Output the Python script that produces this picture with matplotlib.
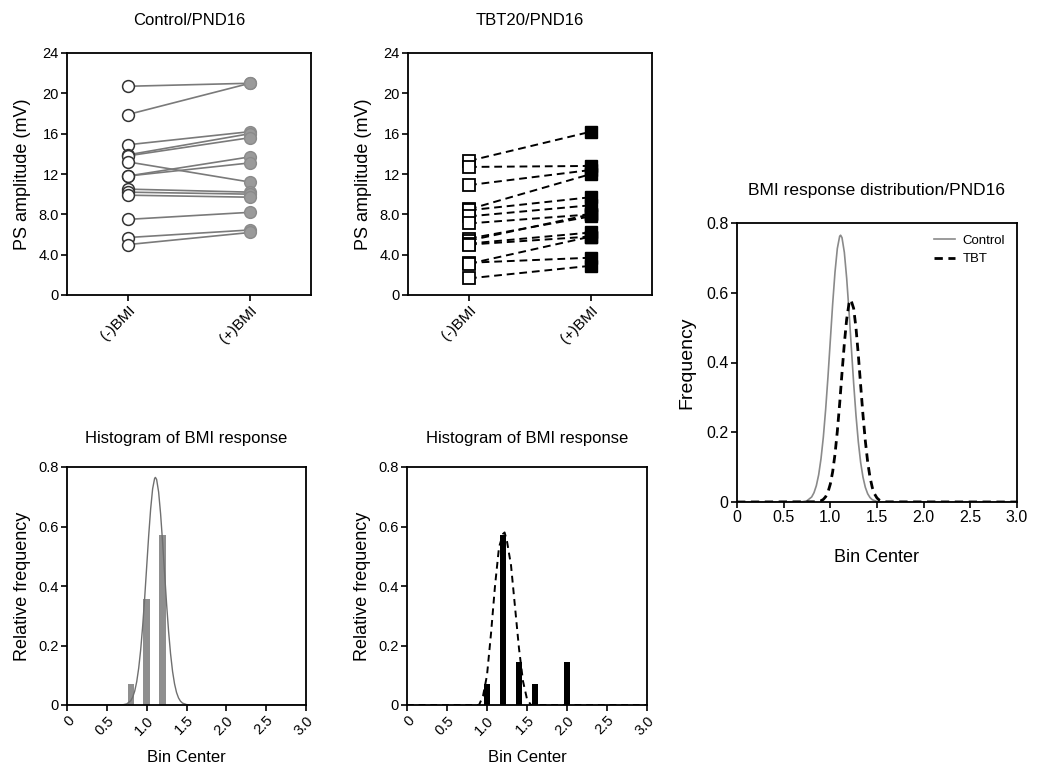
import numpy as np
import matplotlib
matplotlib.use("Agg")
import matplotlib.pyplot as plt

plt.rcParams['font.family'] = ['Liberation Sans', 'DejaVu Sans']

# -------------------------------------------------
# Daten
# -------------------------------------------------
conditions = ["(-)BMI", "(+)BMI"]

# PS amplitude (mV), je Schnitt: vor / nach BMI
control_before = [20.7, 17.9, 14.9, 13.9, 13.8, 13.2, 11.8, 11.8, 10.5, 10.2, 9.9, 7.5, 5.7, 5.0]
control_after = [21.0, 21.0, 16.2, 16.0, 15.6, 11.2, 13.7, 13.1, 10.2, 10.0, 9.7, 8.2, 6.45, 6.2]
tbt_before = [13.3, 12.7, 10.9, 8.5, 8.4, 7.8, 7.1, 5.6, 5.4, 5.1, 5.0, 3.2, 3.1, 1.65]
tbt_after = [16.2, 12.8, 12.4, 12.0, 9.7, 8.9, 8.0, 7.8, 8.0, 6.2, 5.8, 3.7, 5.8, 2.9]

# Histogramme der BMI-Antwort (relative Haeufigkeit)
control_bins = [0.8, 1.0, 1.2]
control_freq = [0.071, 0.357, 0.571]
tbt_bins = [1.0, 1.2, 1.4, 1.6, 2.0]
tbt_freq = [0.071, 0.571, 0.143, 0.071, 0.143]

control_curve_x = [0.0, 0.70, 0.75, 0.80, 0.825, 0.85, 0.875, 0.90, 0.925, 0.95, 0.975, 1.00,
                   1.025, 1.05, 1.075, 1.10, 1.11, 1.125, 1.15, 1.175, 1.20, 1.225, 1.25,
                   1.275, 1.30, 1.325, 1.35, 1.375, 1.40, 1.425, 1.45, 1.50, 1.55, 3.0]
control_curve_y = [0.0, 0.0007, 0.0036, 0.0144, 0.0267, 0.0468, 0.078, 0.124, 0.186, 0.266,
                   0.360, 0.464, 0.568, 0.659, 0.727, 0.762, 0.765, 0.758, 0.716, 0.642,
                   0.547, 0.443, 0.340, 0.248, 0.172, 0.113, 0.071, 0.042, 0.0237, 0.0127,
                   0.0064, 0.0014, 0.0002, 0.0]
tbt_curve_x = [0.0, 0.85, 0.90, 0.925, 0.95, 0.975, 1.00, 1.025, 1.05, 1.075, 1.10, 1.125,
               1.15, 1.175, 1.20, 1.22, 1.25, 1.275, 1.30, 1.325, 1.35, 1.375, 1.40, 1.425,
               1.45, 1.475, 1.50, 1.525, 1.55, 1.60, 3.0]
tbt_curve_y = [0.0, 0.0006, 0.0035, 0.0075, 0.0152, 0.0288, 0.0516, 0.0867, 0.137, 0.203,
               0.282, 0.370, 0.454, 0.524, 0.569, 0.580, 0.555, 0.499, 0.421, 0.334, 0.249,
               0.175, 0.115, 0.071, 0.041, 0.0225, 0.0115, 0.0055, 0.0025, 0.0004, 0.0]
# grob gezeichnete Kurve im TBT-Histogramm
tbt_hist_curve_x = [0.0, 0.90, 0.95, 1.00, 1.05, 1.10, 1.15, 1.20, 1.22, 1.25, 1.30, 1.35,
                    1.40, 1.45, 1.50, 1.55, 3.0]
tbt_hist_curve_y = [0.0, 0.0, 0.03, 0.10, 0.24, 0.40, 0.53, 0.575, 0.58, 0.55, 0.47, 0.33,
                    0.19, 0.08, 0.02, 0.0, 0.0]

ps_ticks = [0, 4, 8, 12, 16, 20, 24]
ps_ticklabels = ["0", "4.0", "8.0", "12", "16", "20", "24"]
freq_ticks = [0, 0.2, 0.4, 0.6, 0.8]
freq_ticklabels = ["0", "0.2", "0.4", "0.6", "0.8"]
bin_ticks = [0, 0.5, 1.0, 1.5, 2.0, 2.5, 3.0]
bin_ticklabels = ["0", "0.5", "1.0", "1.5", "2.0", "2.5", "3.0"]

# -------------------------------------------------
# Layout
# -------------------------------------------------
fig = plt.figure(figsize=(10.45, 7.67), dpi=100)
W, H = 1045, 767


def px_axes(left, top, right, bottom):
    return fig.add_axes([left / W, (H - bottom) / H, (right - left) / W, (bottom - top) / H])


def style_axes(ax, labelsize=10.5):
    for s in ax.spines.values():
        s.set_linewidth(1.3)
        s.set_color("black")
    ax.tick_params(direction="out", length=4, width=1.2, labelsize=labelsize, pad=2,
                   top=False, right=False)


ax_a = px_axes(67, 53, 311, 295)
ax_b = px_axes(408, 53, 652, 295)
ax_c = px_axes(67, 467, 306, 705)
ax_d = px_axes(407, 467, 647, 705)
ax_e = px_axes(737, 223, 1017, 502)

# -------------------------------------------------
# Paarplots
# -------------------------------------------------
xpos = np.arange(len(conditions))
for b, a in zip(control_before, control_after):
    ax_a.plot(xpos, [b, a], color="#7a7a7a", lw=1.2, zorder=1)
ax_a.plot(np.zeros(len(control_before)), control_before, 'o', ms=8.5, mfc="white",
          mec="#333333", mew=1.1, ls="none", zorder=2)
ax_a.plot(np.ones(len(control_after)), control_after, 'o', ms=8.5, mfc="#9a9a9a",
          mec="#8a8a8a", mew=1.0, ls="none", zorder=2)

for b, a in zip(tbt_before, tbt_after):
    ax_b.plot(xpos, [b, a], color="black", lw=1.4, ls=(0, (4, 2.5)), zorder=1)
ax_b.plot(np.zeros(len(tbt_before)), tbt_before, 's', ms=8.5, mfc="white",
          mec="black", mew=1.3, ls="none", zorder=2)
ax_b.plot(np.ones(len(tbt_after)), tbt_after, 's', ms=8.5, mfc="black",
          mec="black", mew=1.0, ls="none", zorder=2)

for ax, title in [(ax_a, "Control/PND16"), (ax_b, "TBT20/PND16")]:
    style_axes(ax)
    ax.set_xlim(-0.5, 1.5)
    ax.set_ylim(0, 24)
    ax.set_yticks(ps_ticks)
    ax.set_yticklabels(ps_ticklabels)
    ax.set_xticks(xpos)
    ax.set_xticklabels(conditions, rotation=45, ha="right", rotation_mode="anchor",
                       fontsize=11)
    ax.set_ylabel("PS amplitude (mV)", fontsize=13, labelpad=5)
    ax.set_title(title, fontsize=12, pad=20)

# -------------------------------------------------
# Histogramme
# -------------------------------------------------
ax_c.bar(control_bins, control_freq, width=0.08, color="#8f8f8f", zorder=1)
ax_c.plot(control_curve_x, control_curve_y, color="#6f6f6f", lw=1.0, zorder=2)

ax_d.bar(tbt_bins, tbt_freq, width=0.08, color="black", zorder=1)
ax_d.plot(tbt_hist_curve_x, tbt_hist_curve_y, color="black", lw=1.4, ls=(0, (3.5, 2.5)), zorder=2)

for ax in [ax_c, ax_d]:
    style_axes(ax)
    ax.set_xlim(0, 3)
    ax.set_ylim(0, 0.8)
    ax.set_yticks(freq_ticks)
    ax.set_yticklabels(freq_ticklabels)
    ax.set_xticks(bin_ticks)
    ax.set_xticklabels(bin_ticklabels, rotation=45, ha="right", rotation_mode="anchor")
    ax.set_ylabel("Relative frequency", fontsize=13, labelpad=5)
    ax.set_xlabel("Bin Center", fontsize=12, labelpad=9)
    ax.set_title("Histogram of BMI response", fontsize=12, pad=17)

# -------------------------------------------------
# Verteilungsvergleich
# -------------------------------------------------
ax_e.plot(control_curve_x, control_curve_y, color="#8a8a8a", lw=1.2, label="Control")
ax_e.plot(tbt_curve_x, tbt_curve_y, color="black", lw=2.0, ls=(0, (3, 2)), label="TBT")
style_axes(ax_e, labelsize=11.5)
ax_e.set_xlim(0, 3)
ax_e.set_ylim(0, 0.8)
ax_e.set_yticks(freq_ticks)
ax_e.set_yticklabels(freq_ticklabels)
ax_e.set_xticks(bin_ticks)
ax_e.set_xticklabels(bin_ticklabels)
ax_e.set_ylabel("Frequency", fontsize=14, labelpad=8)
ax_e.set_xlabel("Bin Center", fontsize=13, labelpad=17)
ax_e.set_title("BMI response distribution/PND16", fontsize=12.5, pad=20)
ax_e.legend(loc="upper right", frameon=False, fontsize=9.5, handlelength=1.6,
            handletextpad=0.6, borderaxespad=0.5, labelspacing=0.45)

fig.savefig("out.png", dpi=100)
